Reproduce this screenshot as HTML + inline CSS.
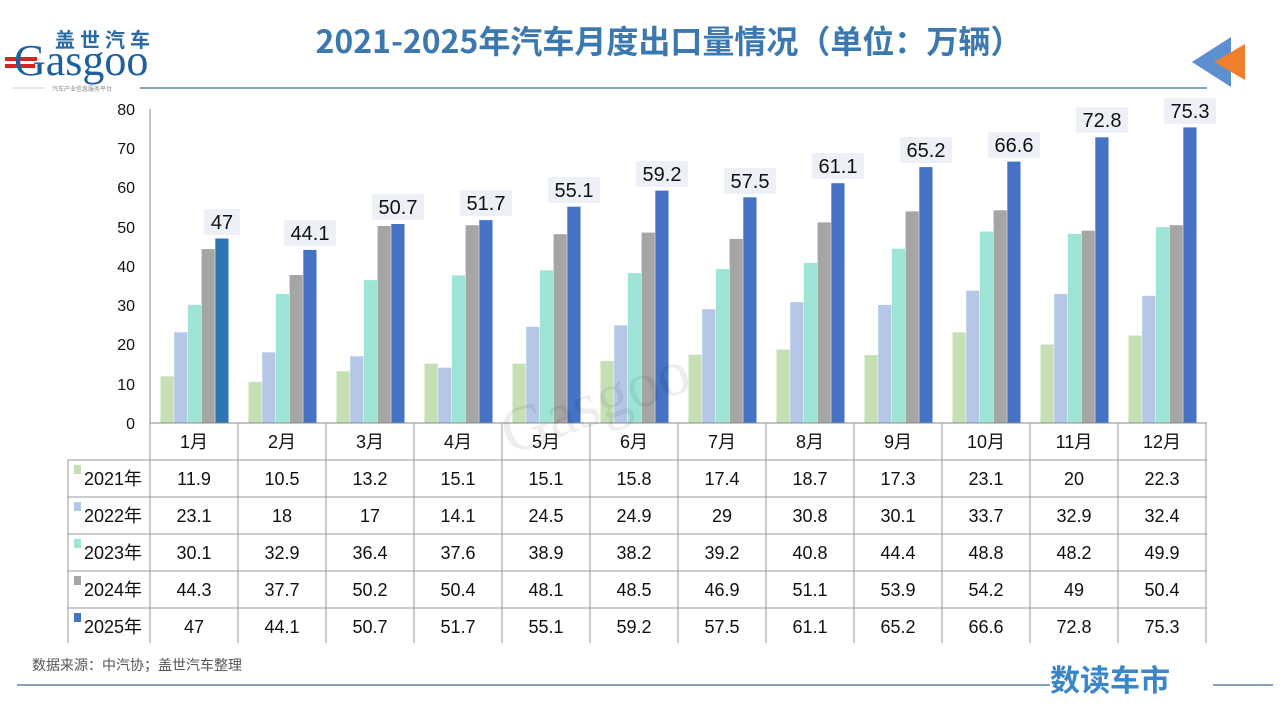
<!DOCTYPE html>
<html><head><meta charset="utf-8"><style>
html,body{margin:0;padding:0;background:#fff;}
svg{display:block;}
text{font-family:"Liberation Sans","Noto Sans CJK SC",sans-serif;}
.t{font-size:18px;fill:#111;text-anchor:middle;}
.y{font-size:16px;fill:#111;text-anchor:end;}
.l{font-size:20px;fill:#111;text-anchor:middle;}
</style></head><body>
<svg width="1280" height="720" viewBox="0 0 1280 720">
<!-- logo -->
<text x="105" y="47" font-size="20" font-weight="bold" fill="#2a6aa8" text-anchor="middle" style="font-family:'Noto Sans CJK SC',sans-serif;letter-spacing:5px">盖世汽车</text>
<rect x="5" y="57" width="32" height="4" fill="#d22"/><rect x="5" y="64" width="30" height="4" fill="#d22"/>
<text x="14" y="75" font-size="44" fill="#1f5f9e" style="font-family:'Liberation Serif',serif">Gasgoo</text>
<text x="82" y="91" font-size="6" fill="#888" text-anchor="middle" style="font-family:'Noto Sans CJK SC',sans-serif">汽车产业信息服务平台</text>
<line x1="12" y1="88" x2="45" y2="88" stroke="#ccc"/>
<line x1="140" y1="88" x2="1207" y2="88" stroke="#3d6d99" stroke-width="1.2"/>
<!-- title -->
<text x="669" y="53" font-size="32" font-weight="bold" fill="#3b78b0" text-anchor="middle" style="font-family:'Noto Sans CJK SC',sans-serif">2021-2025年汽车月度出口量情况（单位：万辆）</text>
<!-- arrows -->
<polygon points="1192,62 1231,37 1231,87" fill="#5b8fd0"/>
<polygon points="1214,62 1245,44 1245,80" fill="#f07f2d"/>
<!-- y axis -->
<line x1="150" y1="109" x2="150" y2="423" stroke="#888"/>
<text class="y" x="135" y="429">0</text><text class="y" x="135" y="390">10</text><text class="y" x="135" y="350">20</text><text class="y" x="135" y="311">30</text><text class="y" x="135" y="272">40</text><text class="y" x="135" y="233">50</text><text class="y" x="135" y="193">60</text><text class="y" x="135" y="154">70</text><text class="y" x="135" y="115">80</text>
<!-- bars -->
<g transform="translate(0,423) scale(1,-1)">
<g transform="translate(160.5,0)"><rect x="0" width="13.2" height="46.7" fill="#c5e0b4"/><rect x="13.7" width="13.2" height="90.7" fill="#b4c7e7"/><rect x="27.4" width="13.2" height="118.1" fill="#9ee3d6"/><rect x="41.1" width="13.2" height="173.9" fill="#a5a5a5"/><rect x="54.8" width="13.2" height="184.5" fill="#2e75b6"/></g>
<g transform="translate(248.5,0)"><rect x="0" width="13.2" height="41.2" fill="#c5e0b4"/><rect x="13.7" width="13.2" height="70.7" fill="#b4c7e7"/><rect x="27.4" width="13.2" height="129.1" fill="#9ee3d6"/><rect x="41.1" width="13.2" height="148.0" fill="#a5a5a5"/><rect x="54.8" width="13.2" height="173.1" fill="#4472c4"/></g>
<g transform="translate(336.5,0)"><rect x="0" width="13.2" height="51.8" fill="#c5e0b4"/><rect x="13.7" width="13.2" height="66.7" fill="#b4c7e7"/><rect x="27.4" width="13.2" height="142.9" fill="#9ee3d6"/><rect x="41.1" width="13.2" height="197.0" fill="#a5a5a5"/><rect x="54.8" width="13.2" height="199.0" fill="#4472c4"/></g>
<g transform="translate(424.5,0)"><rect x="0" width="13.2" height="59.3" fill="#c5e0b4"/><rect x="13.7" width="13.2" height="55.3" fill="#b4c7e7"/><rect x="27.4" width="13.2" height="147.6" fill="#9ee3d6"/><rect x="41.1" width="13.2" height="197.8" fill="#a5a5a5"/><rect x="54.8" width="13.2" height="202.9" fill="#4472c4"/></g>
<g transform="translate(512.5,0)"><rect x="0" width="13.2" height="59.3" fill="#c5e0b4"/><rect x="13.7" width="13.2" height="96.2" fill="#b4c7e7"/><rect x="27.4" width="13.2" height="152.7" fill="#9ee3d6"/><rect x="41.1" width="13.2" height="188.8" fill="#a5a5a5"/><rect x="54.8" width="13.2" height="216.3" fill="#4472c4"/></g>
<g transform="translate(600.5,0)"><rect x="0" width="13.2" height="62.0" fill="#c5e0b4"/><rect x="13.7" width="13.2" height="97.7" fill="#b4c7e7"/><rect x="27.4" width="13.2" height="149.9" fill="#9ee3d6"/><rect x="41.1" width="13.2" height="190.4" fill="#a5a5a5"/><rect x="54.8" width="13.2" height="232.4" fill="#4472c4"/></g>
<g transform="translate(688.5,0)"><rect x="0" width="13.2" height="68.3" fill="#c5e0b4"/><rect x="13.7" width="13.2" height="113.8" fill="#b4c7e7"/><rect x="27.4" width="13.2" height="153.9" fill="#9ee3d6"/><rect x="41.1" width="13.2" height="184.1" fill="#a5a5a5"/><rect x="54.8" width="13.2" height="225.7" fill="#4472c4"/></g>
<g transform="translate(776.5,0)"><rect x="0" width="13.2" height="73.4" fill="#c5e0b4"/><rect x="13.7" width="13.2" height="120.9" fill="#b4c7e7"/><rect x="27.4" width="13.2" height="160.1" fill="#9ee3d6"/><rect x="41.1" width="13.2" height="200.6" fill="#a5a5a5"/><rect x="54.8" width="13.2" height="239.8" fill="#4472c4"/></g>
<g transform="translate(864.5,0)"><rect x="0" width="13.2" height="67.9" fill="#c5e0b4"/><rect x="13.7" width="13.2" height="118.1" fill="#b4c7e7"/><rect x="27.4" width="13.2" height="174.3" fill="#9ee3d6"/><rect x="41.1" width="13.2" height="211.6" fill="#a5a5a5"/><rect x="54.8" width="13.2" height="255.9" fill="#4472c4"/></g>
<g transform="translate(952.5,0)"><rect x="0" width="13.2" height="90.7" fill="#c5e0b4"/><rect x="13.7" width="13.2" height="132.3" fill="#b4c7e7"/><rect x="27.4" width="13.2" height="191.5" fill="#9ee3d6"/><rect x="41.1" width="13.2" height="212.7" fill="#a5a5a5"/><rect x="54.8" width="13.2" height="261.4" fill="#4472c4"/></g>
<g transform="translate(1040.5,0)"><rect x="0" width="13.2" height="78.5" fill="#c5e0b4"/><rect x="13.7" width="13.2" height="129.1" fill="#b4c7e7"/><rect x="27.4" width="13.2" height="189.2" fill="#9ee3d6"/><rect x="41.1" width="13.2" height="192.3" fill="#a5a5a5"/><rect x="54.8" width="13.2" height="285.7" fill="#4472c4"/></g>
<g transform="translate(1128.5,0)"><rect x="0" width="13.2" height="87.5" fill="#c5e0b4"/><rect x="13.7" width="13.2" height="127.2" fill="#b4c7e7"/><rect x="27.4" width="13.2" height="195.9" fill="#9ee3d6"/><rect x="41.1" width="13.2" height="197.8" fill="#a5a5a5"/><rect x="54.8" width="13.2" height="295.6" fill="#4472c4"/></g>
</g>
<!-- value labels -->
<g fill="#edf1f7">
<rect x="204" y="209" width="36" height="26"/>
<rect x="284" y="220" width="52" height="26"/>
<rect x="372" y="194" width="52" height="26"/>
<rect x="460" y="190" width="52" height="26"/>
<rect x="548" y="177" width="52" height="26"/>
<rect x="636" y="161" width="52" height="26"/>
<rect x="724" y="168" width="52" height="26"/>
<rect x="812" y="153" width="52" height="26"/>
<rect x="900" y="137" width="52" height="26"/>
<rect x="988" y="132" width="52" height="26"/>
<rect x="1076" y="107" width="52" height="26"/>
<rect x="1164" y="98" width="52" height="26"/>
</g>
<text class="l" x="222" y="229">47</text>
<text class="l" x="310" y="240">44.1</text>
<text class="l" x="398" y="214">50.7</text>
<text class="l" x="486" y="210">51.7</text>
<text class="l" x="574" y="197">55.1</text>
<text class="l" x="662" y="181">59.2</text>
<text class="l" x="750" y="188">57.5</text>
<text class="l" x="838" y="173">61.1</text>
<text class="l" x="926" y="157">65.2</text>
<text class="l" x="1014" y="152">66.6</text>
<text class="l" x="1102" y="127">72.8</text>
<text class="l" x="1190" y="118">75.3</text>
<!-- table lines -->
<g stroke="#999" stroke-width="1">
<line x1="150" y1="423" x2="1207" y2="423" stroke="#888"/>
<line x1="68" y1="460" x2="1207" y2="460"/>
<line x1="68" y1="497" x2="1207" y2="497"/>
<line x1="68" y1="534" x2="1207" y2="534"/>
<line x1="68" y1="571" x2="1207" y2="571"/>
<line x1="68" y1="608" x2="1207" y2="608"/>
<line x1="68" y1="460" x2="68" y2="643"/>
<line x1="150" y1="423" x2="150" y2="643"/>
<line x1="238" y1="423" x2="238" y2="643"/><line x1="326" y1="423" x2="326" y2="643"/><line x1="414" y1="423" x2="414" y2="643"/><line x1="502" y1="423" x2="502" y2="643"/><line x1="590" y1="423" x2="590" y2="643"/><line x1="678" y1="423" x2="678" y2="643"/><line x1="766" y1="423" x2="766" y2="643"/><line x1="854" y1="423" x2="854" y2="643"/><line x1="942" y1="423" x2="942" y2="643"/><line x1="1030" y1="423" x2="1030" y2="643"/><line x1="1118" y1="423" x2="1118" y2="643"/><line x1="1206" y1="423" x2="1206" y2="643"/>
</g>
<!-- header -->
<text class="t" x="194" y="448">1月</text><text class="t" x="282" y="448">2月</text><text class="t" x="370" y="448">3月</text><text class="t" x="458" y="448">4月</text><text class="t" x="546" y="448">5月</text><text class="t" x="634" y="448">6月</text><text class="t" x="722" y="448">7月</text><text class="t" x="810" y="448">8月</text><text class="t" x="898" y="448">9月</text><text class="t" x="986" y="448">10月</text><text class="t" x="1074" y="448">11月</text><text class="t" x="1162" y="448">12月</text>
<!-- row labels -->
<rect x="74" y="465" width="7" height="9" fill="#c5e0b4"/><text x="84" y="485" font-size="18" fill="#111">2021年</text>
<rect x="74" y="502" width="7" height="9" fill="#b4c7e7"/><text x="84" y="522" font-size="18" fill="#111">2022年</text>
<rect x="74" y="539" width="7" height="9" fill="#9ee3d6"/><text x="84" y="559" font-size="18" fill="#111">2023年</text>
<rect x="74" y="576" width="7" height="9" fill="#a5a5a5"/><text x="84" y="596" font-size="18" fill="#111">2024年</text>
<rect x="74" y="613" width="7" height="9" fill="#4472c4"/><text x="84" y="633" font-size="18" fill="#111">2025年</text>
<!-- rows -->
<text class="t" x="194" y="485">11.9</text><text class="t" x="282" y="485">10.5</text><text class="t" x="370" y="485">13.2</text><text class="t" x="458" y="485">15.1</text><text class="t" x="546" y="485">15.1</text><text class="t" x="634" y="485">15.8</text><text class="t" x="722" y="485">17.4</text><text class="t" x="810" y="485">18.7</text><text class="t" x="898" y="485">17.3</text><text class="t" x="986" y="485">23.1</text><text class="t" x="1074" y="485">20</text><text class="t" x="1162" y="485">22.3</text>
<text class="t" x="194" y="522">23.1</text><text class="t" x="282" y="522">18</text><text class="t" x="370" y="522">17</text><text class="t" x="458" y="522">14.1</text><text class="t" x="546" y="522">24.5</text><text class="t" x="634" y="522">24.9</text><text class="t" x="722" y="522">29</text><text class="t" x="810" y="522">30.8</text><text class="t" x="898" y="522">30.1</text><text class="t" x="986" y="522">33.7</text><text class="t" x="1074" y="522">32.9</text><text class="t" x="1162" y="522">32.4</text>
<text class="t" x="194" y="559">30.1</text><text class="t" x="282" y="559">32.9</text><text class="t" x="370" y="559">36.4</text><text class="t" x="458" y="559">37.6</text><text class="t" x="546" y="559">38.9</text><text class="t" x="634" y="559">38.2</text><text class="t" x="722" y="559">39.2</text><text class="t" x="810" y="559">40.8</text><text class="t" x="898" y="559">44.4</text><text class="t" x="986" y="559">48.8</text><text class="t" x="1074" y="559">48.2</text><text class="t" x="1162" y="559">49.9</text>
<text class="t" x="194" y="596">44.3</text><text class="t" x="282" y="596">37.7</text><text class="t" x="370" y="596">50.2</text><text class="t" x="458" y="596">50.4</text><text class="t" x="546" y="596">48.1</text><text class="t" x="634" y="596">48.5</text><text class="t" x="722" y="596">46.9</text><text class="t" x="810" y="596">51.1</text><text class="t" x="898" y="596">53.9</text><text class="t" x="986" y="596">54.2</text><text class="t" x="1074" y="596">49</text><text class="t" x="1162" y="596">50.4</text>
<text class="t" x="194" y="633">47</text><text class="t" x="282" y="633">44.1</text><text class="t" x="370" y="633">50.7</text><text class="t" x="458" y="633">51.7</text><text class="t" x="546" y="633">55.1</text><text class="t" x="634" y="633">59.2</text><text class="t" x="722" y="633">57.5</text><text class="t" x="810" y="633">61.1</text><text class="t" x="898" y="633">65.2</text><text class="t" x="986" y="633">66.6</text><text class="t" x="1074" y="633">72.8</text><text class="t" x="1162" y="633">75.3</text>
<!-- watermark -->
<text x="490" y="420" font-size="64" fill="#000" fill-opacity="0.07" transform="rotate(-20 600 380)" style="font-family:'Liberation Serif',serif">Gasgoo</text>
<!-- footer -->
<text x="32" y="670" font-size="14" fill="#555" style="font-family:'Noto Sans CJK SC',sans-serif">数据来源：中汽协；盖世汽车整理</text>
<line x1="17" y1="685" x2="1050" y2="685" stroke="#3d6d99" stroke-width="1.2"/>
<line x1="1213" y1="685" x2="1273" y2="685" stroke="#3d6d99" stroke-width="1.2"/>
<text x="1110" y="691" font-size="30" font-weight="bold" fill="#3a86c8" text-anchor="middle" style="font-family:'Noto Sans CJK SC',sans-serif">数读车市</text>
</svg>
</body></html>
